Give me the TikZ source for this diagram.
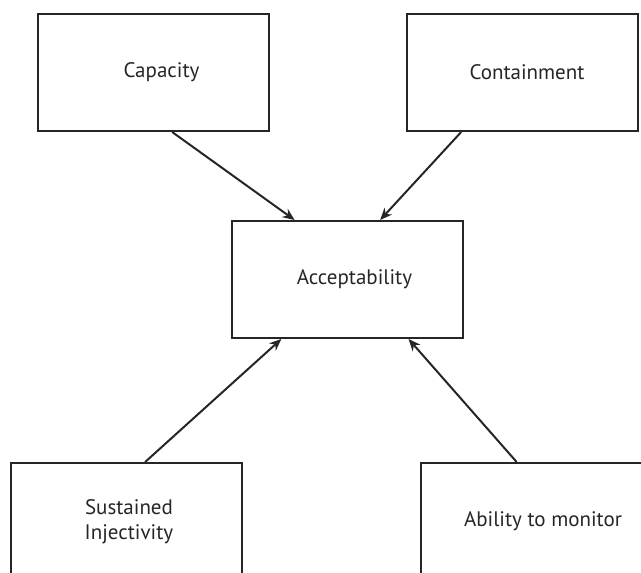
\documentclass[tikz,border=0pt]{standalone}
\usepackage{fontspec}
\setmainfont{PT Sans}
\usetikzlibrary{arrows.meta,calc}
\tikzset{
	blok/.style={draw=black!85,line width=2pt,minimum width=231pt,minimum height=117pt,inner sep=0pt,align=center,text=black!85},
	pijl/.style={draw=black!85,-{Stealth[length=12pt,width=10pt]},line width=2pt}
}
\begin{document}
\begin{tikzpicture}[x=1pt,y=-1pt,font=\fontsize{21}{25}\selectfont,line join=miter]
	\useasboundingbox(0,0)rectangle(641,573);
	\clip(0,0)rectangle(641,573);
	% de vijf blokken
	\node[blok](cap)at(153.5,72.5){\hspace*{16pt}\raisebox{4pt}{Capacity}};
	\node[blok](con)at(522,72.5){\hspace*{10pt}\raisebox{-2pt}{Containment}};
	\node[blok](acc)at(347.5,279.5){\hspace*{14pt}\raisebox{-2pt}{Acceptability}};
	\node[blok](sus)at(126.5,521.5){\hspace*{5pt}Sustained\\\hspace*{5pt}Injectivity};
	\node[blok](mon)at(536,521.5){\hspace*{14pt}\raisebox{4pt}{Ability to monitor}};
	% pijlen naar acceptability
	\draw[pijl]($(cap.south west)!0.58!(cap.south east)$)--($(acc.north west)!0.273!(acc.north east)$);
	\draw[pijl]($(con.south west)!0.239!(con.south east)$)--($(acc.north west)!0.64!(acc.north east)$);
	\draw[pijl]($(sus.north west)!0.58!(sus.north east)$)--($(acc.south west)!0.216!(acc.south east)$);
	\draw[pijl]($(mon.north west)!0.417!(mon.north east)$)--($(acc.south west)!0.762!(acc.south east)$);
\end{tikzpicture}
\end{document}
